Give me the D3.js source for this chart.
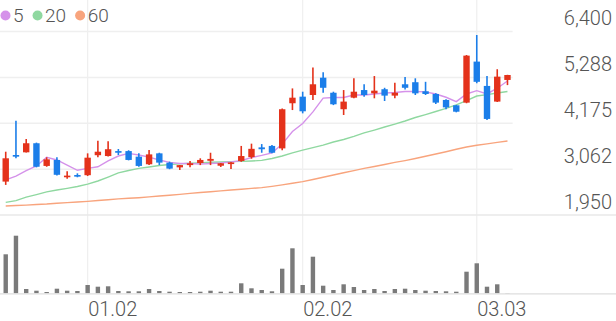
<!DOCTYPE html>
<html>
<head>
<meta charset="utf-8">
<script src="https://cdn.jsdelivr.net/npm/d3@7"></script>
<style>
  html, body { margin: 0; padding: 0; background: #fff; }
  svg { display: block; font-family: Roboto, "Noto Sans", sans-serif; }
</style>
</head>
<body>
<svg width="616" height="321"></svg>
<script>
// daily candles, oldest first
const opens  = [2760, 3405, 3470, 3690, 3140, 3285, 2865, 2920, 2915, 3400,
                3380, 3500, 3500, 3365, 3180, 3445, 3220, 3105, 3160, 3210,
                3265, 3145, 3185, 3260, 3355, 3590, 3625, 3565, 4660, 4820,
                4860, 5280, 4915, 4515, 4795, 4980, 4900, 5000, 4845, 5120,
                5170, 4950, 4885, 4740, 4610, 4675, 5670, 5080, 4700, 5225];
const highs  = [3485, 4235, 3795, 3705, 3350, 3350, 3010, 2960, 3445, 3750,
                3740, 3550, 3520, 3445, 3525, 3460, 3245, 3165, 3260, 3325,
                3460, 3210, 3235, 3625, 3680, 3670, 3650, 4530, 5020, 4940,
                5530, 5410, 4940, 4980, 5265, 5120, 5320, 5035, 5160, 5295,
                5265, 5180, 4900, 4755, 4620, 5830, 6315, 5320, 5485, 5350];
const lows   = [2680, 3325, 3465, 3105, 3120, 2910, 2830, 2865, 2895, 3350,
                3370, 3405, 3275, 3120, 3160, 3160, 3060, 3040, 3105, 3160,
                3160, 3115, 3065, 3240, 3315, 3460, 3445, 3520, 4495, 4415,
                4740, 4915, 4615, 4375, 4780, 4820, 4780, 4715, 4780, 4995,
                4860, 4860, 4640, 4515, 4440, 4660, 5145, 4255, 4690, 5100];
const closes = [3325, 3365, 3690, 3120, 3300, 2925, 2905, 2880, 3340, 3485,
                3545, 3460, 3285, 3140, 3420, 3220, 3075, 3160, 3205, 3285,
                3310, 3205, 3225, 3380, 3555, 3545, 3460, 4515, 4795, 4465,
                5120, 5035, 4635, 4700, 4940, 4860, 4965, 4845, 4915, 5035,
                4900, 4885, 4675, 4560, 4455, 5815, 5180, 4280, 5305, 5345];
const volumes = [390000, 576000, 43000, 26000, 13000, 46000, 26000, 23000, 83000, 66000,
                 70000, 23000, 20000, 20000, 43000, 23000, 16000, 13000, 13000, 16000,
                 26000, 16000, 16000, 100000, 50000, 33000, 20000, 246000, 450000, 83000,
                 366000, 76000, 33000, 90000, 63000, 33000, 43000, 23000, 43000, 46000,
                 33000, 26000, 23000, 20000, 16000, 216000, 300000, 66000, 90000, 3000];

// moving averages as drawn
const ma5  = [2800, 2895, 3025, 3140, 3350, 3285, 3160, 3035, 3080, 3120,
              3260, 3380, 3445, 3405, 3355, 3285, 3225, 3200, 3200, 3185,
              3200, 3210, 3235, 3270, 3345, 3395, 3455, 3670, 3975, 4170,
              4450, 4785, 4800, 4800, 4860, 4860, 4885, 4910, 4920, 4945,
              4945, 4935, 4885, 4805, 4700, 4885, 4965, 4885, 5025, 5200];
const ma20 = [2255, 2300, 2385, 2445, 2510, 2555, 2595, 2640, 2700, 2775,
              2870, 2970, 3030, 3080, 3115, 3150, 3175, 3190, 3205, 3215,
              3230, 3235, 3245, 3250, 3260, 3275, 3320, 3380, 3455, 3525,
              3585, 3645, 3720, 3780, 3855, 3940, 4010, 4085, 4155, 4230,
              4315, 4385, 4460, 4535, 4620, 4725, 4835, 4870, 4910, 4945];
const ma60 = [2170, 2180, 2190, 2205, 2215, 2235, 2250, 2265, 2280, 2300,
              2320, 2340, 2355, 2370, 2390, 2410, 2430, 2450, 2475, 2495,
              2515, 2535, 2555, 2575, 2595, 2615, 2645, 2680, 2720, 2760,
              2810, 2865, 2920, 2975, 3025, 3080, 3125, 3175, 3225, 3270,
              3320, 3375, 3430, 3485, 3545, 3600, 3640, 3675, 3710, 3745];

const maNames = ["5", "20", "60"];
const maColors = ["#d592ea", "#8fd8a0", "#f8a47d"];

const priceTicks = [1950, 3062.5, 4175, 5287.5, 6400];
const priceTickLabels = ["1,950", "3,062", "4,175", "5,288", "6,400"];
const dateTickIdx = [8, 29, 46];
const dateTickLabels = ["01.02", "02.02", "03.03"];

const svg = d3.select("svg");
const W = 616;
const upColor = "#e4321b";
const downColor = "#1b7ee9";

const idx = d3.range(closes.length);

const x = d3.scaleBand()
    .domain(idx)
    .range([0.6, 512.6]);

const y = d3.scaleLinear()
    .domain([1950, 6400])
    .range([215, 31.5]);

const yVol = d3.scaleLinear()
    .domain([0, 600000])
    .range([293.3, 233.3]);

const cx = i => x(i) + x.bandwidth() / 2;

// vertical grid (full height)
svg.append("g")
    .selectAll("line")
    .data(dateTickIdx)
    .enter()
    .append("line")
    .attr("x1", d => cx(d))
    .attr("x2", d => cx(d))
    .attr("y1", 0)
    .attr("y2", 293)
    .attr("stroke", "#efefef")
    .attr("stroke-width", 1.2);

// horizontal grid in price pane
svg.append("g")
    .selectAll("line")
    .data(priceTicks.slice(1))
    .enter()
    .append("line")
    .attr("x1", 0)
    .attr("x2", 512.6)
    .attr("y1", d => y(d))
    .attr("y2", d => y(d))
    .attr("stroke", "#efefef")
    .attr("stroke-width", 1.5);

svg.append("line")
    .attr("x1", 0).attr("x2", W)
    .attr("y1", y(1950)).attr("y2", y(1950))
    .attr("stroke", "#e8e8e8")
    .attr("stroke-width", 1.5);

// price labels on the right, sitting above their grid line
svg.append("g")
    .selectAll("text")
    .data(priceTicks)
    .enter()
    .append("text")
    .attr("x", 612)
    .attr("y", d => y(d) - 6.5)
    .attr("text-anchor", "end")
    .attr("font-size", "20px")
    .attr("font-weight", 300)
    .attr("fill", "#555")
    .text((d, i) => priceTickLabels[i]);

// moving averages
const line = d3.line()
    .x((d, i) => cx(i))
    .y(d => y(d));

[ma60, ma20, ma5].forEach((s, k) => {
    svg.append("path")
        .datum(s)
        .attr("fill", "none")
        .attr("stroke", maColors[2 - k])
        .attr("stroke-width", 1.4)
        .attr("d", line);
});

// candles
const candle = svg.append("g")
    .selectAll("g")
    .data(idx)
    .enter()
    .append("g");

candle.append("line")
    .attr("x1", i => cx(i))
    .attr("x2", i => cx(i))
    .attr("y1", i => y(highs[i]))
    .attr("y2", i => y(lows[i]))
    .attr("stroke", i => closes[i] >= opens[i] ? upColor : downColor)
    .attr("stroke-width", 1.6);

candle.append("rect")
    .attr("x", i => cx(i) - 3.2)
    .attr("width", 6.4)
    .attr("y", i => y(Math.max(opens[i], closes[i])))
    .attr("height", i => Math.max(1.5, Math.abs(y(opens[i]) - y(closes[i]))))
    .attr("fill", i => closes[i] >= opens[i] ? upColor : downColor);

// volume
svg.append("g")
    .selectAll("rect")
    .data(volumes)
    .enter()
    .append("rect")
    .attr("x", (d, i) => cx(i) - 2.2)
    .attr("width", 4.4)
    .attr("y", d => yVol(d))
    .attr("height", d => yVol(0) - yVol(d))
    .attr("fill", "#7a7a7a");

svg.append("line")
    .attr("x1", 0).attr("x2", W)
    .attr("y1", 293.8).attr("y2", 293.8)
    .attr("stroke", "#dedede")
    .attr("stroke-width", 1.2);

// date labels, left aligned on their grid line
svg.append("g")
    .selectAll("text")
    .data(dateTickIdx)
    .enter()
    .append("text")
    .attr("x", d => cx(d) + 0.5)
    .attr("y", 316)
    .attr("font-size", "20px")
    .attr("font-weight", 300)
    .attr("fill", "#555")
    .text((d, i) => dateTickLabels[i]);

// legend
const legend = svg.append("g");
let lx = 5.5;
maNames.forEach((name, k) => {
    legend.append("circle")
        .attr("cx", lx)
        .attr("cy", 15.5)
        .attr("r", 5)
        .attr("fill", maColors[k]);
    const t = legend.append("text")
        .attr("x", lx + 7.5)
        .attr("y", 22)
        .attr("font-size", "19px")
        .attr("font-weight", 300)
        .attr("fill", "#555")
        .text(name);
    lx += 7.5 + t.node().getComputedTextLength() + 14;
});
</script>
</body>
</html>
